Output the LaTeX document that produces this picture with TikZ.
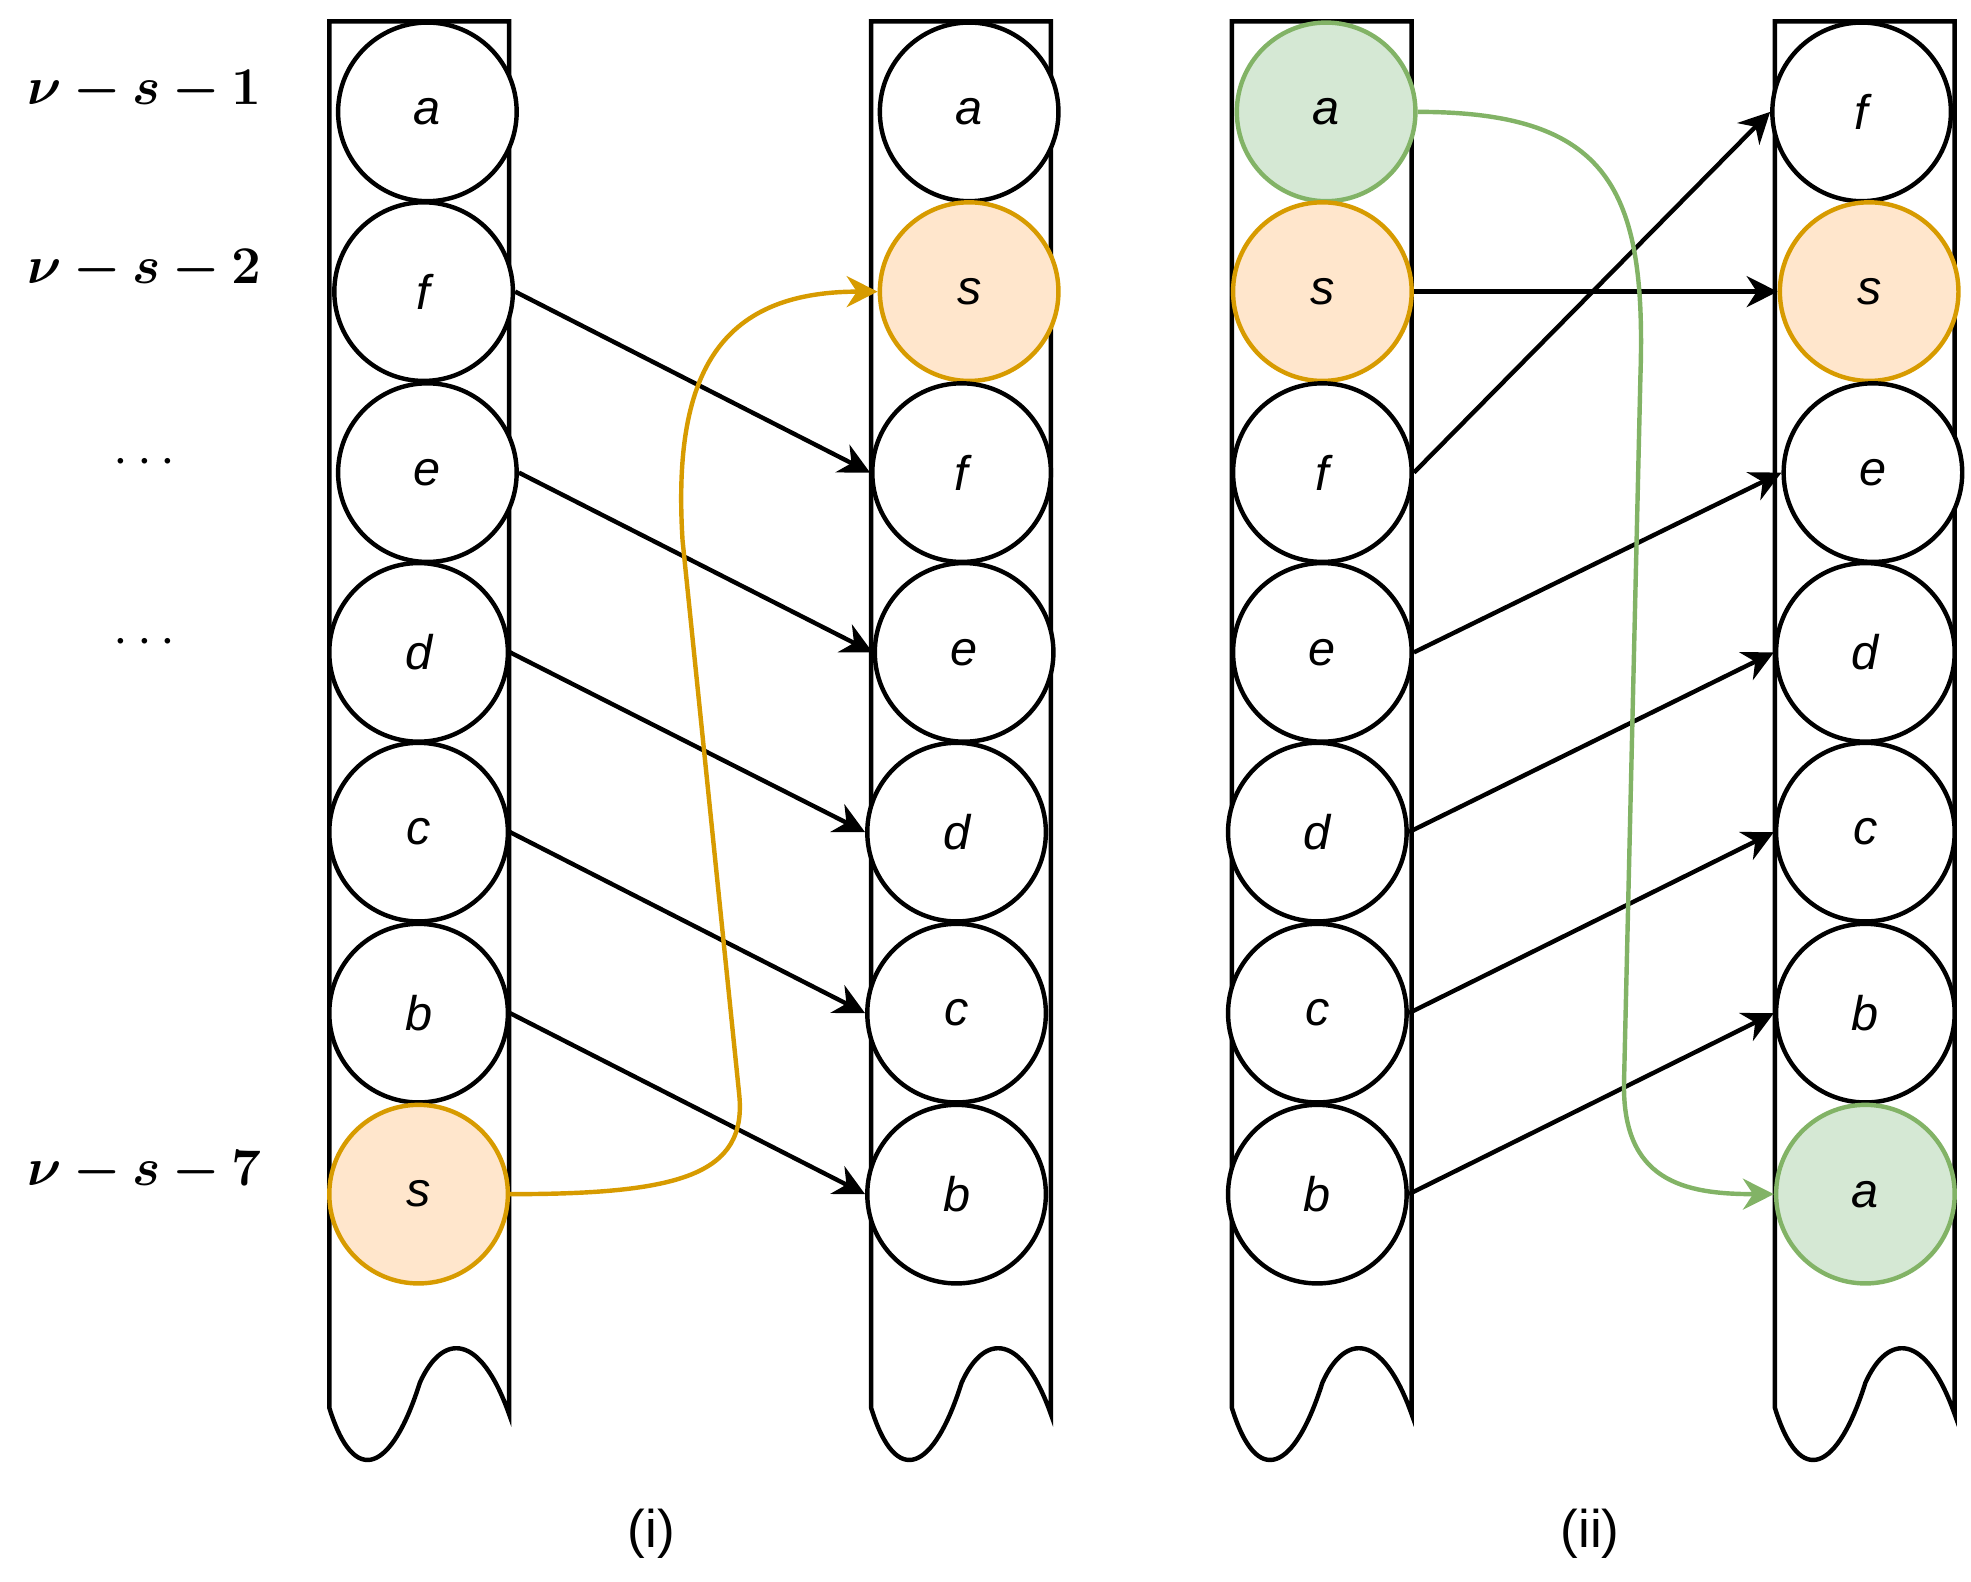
\documentclass[tikz,border=0pt]{standalone}
\usepackage{tikz}
\usetikzlibrary{arrows.meta,positioning}
\usepackage{bm}
\usepackage{fontspec}
\newfontfamily\lettersf{Liberation Sans}
\definecolor{orgfill}{HTML}{FFE6CC}
\definecolor{orgline}{HTML}{D79B00}
\definecolor{grnfill}{HTML}{D5E8D4}
\definecolor{grnline}{HTML}{82B366}

\tikzset{
  ball/.style={circle, draw, line width=1pt, fill=white, minimum size=1.42cm, inner sep=0pt,
    font=\lettersf\itshape\fontsize{11}{13}\selectfont},
  orgball/.style={ball, draw=orgline, fill=orgfill},
  grnball/.style={ball, draw=grnline, fill=grnfill},
  move/.style={line width=1pt, -{Stealth[length=7pt,width=7pt]}},
  rowlab/.style={font=\fontsize{12}{14}\selectfont},
}
\newcommand{\tube}[1]{%
  \begin{scope}[shift={(#1,0)}]
    \draw[line width=1pt] (0,17) -- (143,17) -- (143,1125)
      .. controls (120,1060) and (90,1060) .. (72,1100)
      .. controls (50,1170) and (20,1185) .. (0,1120) -- cycle;
  \end{scope}}

\begin{document}
\begin{tikzpicture}[x=0.01cm, y=-0.01cm]
    \useasboundingbox (0,0) rectangle (1568,1258);

    % Tubes
    \tube{262}
    \tube{693}
    \tube{980}
    \tube{1412}

    % Row labels
    \node[rowlab] (r1) at (115,72) {$\bm{\nu - s - 1}$};
    \node[rowlab] (r2) at (115,215) {$\bm{\nu - s - 2}$};
    \node[rowlab] (r3) at (115,368) {$\cdots$};
    \node[rowlab] (r4) at (115,511) {$\cdots$};
    \node[rowlab] (r7) at (115,932) {$\bm{\nu - s - 7}$};

    % Column 1
    \node[ball] (a1) at (340,89) {a};
    \node[ball] (f1) at (337,232) {f};
    \node[ball] (e1) at (340,376) {e};
    \node[ball] (d1) at (333,519) {d};
    \node[ball] (c1) at (333,662) {c};
    \node[ball] (b1) at (333,806) {b};
    \node[orgball] (s1) at (333,950) {s};

    % Column 2
    \node[ball] (a2) at (771,89) {a};
    \node[orgball] (s2) at (771,232) {s};
    \node[ball] (f2) at (765,376) {f};
    \node[ball] (e2) at (767,519) {e};
    \node[ball] (d2) at (761,662) {d};
    \node[ball] (c2) at (761,806) {c};
    \node[ball] (b2) at (761,950) {b};

    % Column 3
    \node[grnball] (a3) at (1055,89) {a};
    \node[orgball] (s3) at (1052,232) {s};
    \node[ball] (f3) at (1052,376) {f};
    \node[ball] (e3) at (1052,519) {e};
    \node[ball] (d3) at (1048,662) {d};
    \node[ball] (c3) at (1048,806) {c};
    \node[ball] (b3) at (1048,950) {b};

    % Column 4
    \node[ball] (f4) at (1481,89) {f};
    \node[orgball] (s4) at (1487,232) {s};
    \node[ball] (e4) at (1490,376) {e};
    \node[ball] (d4) at (1484,519) {d};
    \node[ball] (c4) at (1484,662) {c};
    \node[ball] (b4) at (1484,806) {b};
    \node[grnball] (a4) at (1484,950) {a};

    % Captions
    \node[font=\lettersf\fontsize{12}{14}\selectfont] (capi) at (518,1220) {(i)};
    \node[font=\lettersf\fontsize{12}{14}\selectfont] (capii) at (1265,1220) {(ii)};

    % Shifts (i)
    \foreach \n in {f,e,d,c,b}
        \draw[move] (\n1.east) -- (\n2.west);
    \coordinate (o1) at (588,870);
    \coordinate (o2) at (543,430);
    \draw[move, draw=orgline, -{Stealth[length=7pt,width=7pt,fill=orgline]}]
        (s1.east) .. controls (540,950) and (595,935) .. (o1) -- (o2)
        .. controls (535,300) and (570,232) .. (s2.west);

    % Shifts (ii)
    \foreach \n in {f,s,e,d,c,b}
        \draw[move] (\n3.east) -- (\n4.west);
    \coordinate (g1) at (1305,300);
    \coordinate (g2) at (1292,860);
    \draw[move, draw=grnline, -{Stealth[length=7pt,width=7pt,fill=grnline]}]
        (a3.east) .. controls (1280,89) and (1310,150) .. (g1) -- (g2)
        .. controls (1290,940) and (1340,950) .. (a4.west);
\end{tikzpicture}
\end{document}
